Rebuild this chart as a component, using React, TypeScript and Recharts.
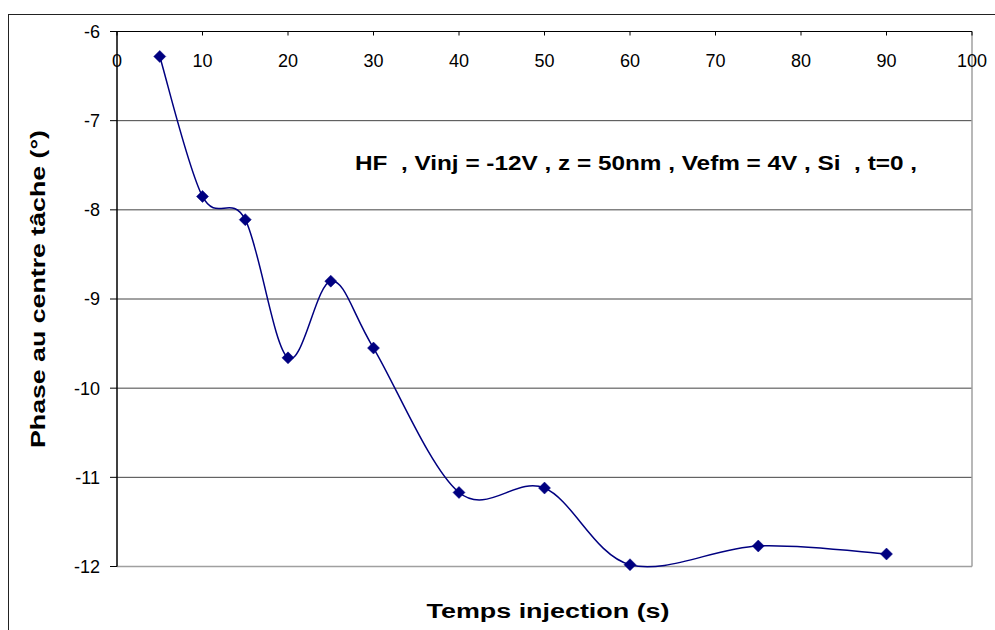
import React from 'react';
import { LineChart, Line, XAxis, YAxis, CartesianGrid, ReferenceLine, Label } from 'recharts';

const times = [5, 10, 15, 20, 25, 30, 40, 50, 60, 75, 90];
const phase = [-6.28, -7.85, -8.11, -9.66, -8.8, -9.55, -11.17, -11.12, -11.98, -11.77, -11.86];
const xTicks = [0, 10, 20, 30, 40, 50, 60, 70, 80, 90, 100];
const yTicks = [-12, -11, -10, -9, -8, -7, -6];
const xTitle = 'Temps injection (s)';
const yTitle = 'Phase au centre tâche (°)';
const note = 'HF  , Vinj = -12V , z = 50nm , Vefm = 4V , Si  , t=0 ,';

const data = times.map((t, i) => ({ t, v: phase[i] }));

const FONT = '"Liberation Sans", Arial, sans-serif';
const NAVY = '#000080';

// Excel-like smoothed line (Bezier with 1/6 tangents)
function excelCurve(context: any) {
  let pts: number[][] = [];
  return {
    areaStart() {},
    areaEnd() {},
    lineStart() {
      pts = [];
    },
    lineEnd() {
      const n = pts.length;
      if (n === 0) return;
      context.moveTo(pts[0][0], pts[0][1]);
      if (n === 1) return;
      const k = 1 / 6;
      for (let i = 0; i < n - 1; i++) {
        const p0 = pts[Math.max(0, i - 1)];
        const p1 = pts[i];
        const p2 = pts[i + 1];
        const p3 = pts[Math.min(n - 1, i + 2)];
        context.bezierCurveTo(
          p1[0] + (p2[0] - p0[0]) * k,
          p1[1] + (p2[1] - p0[1]) * k,
          p2[0] - (p3[0] - p1[0]) * k,
          p2[1] - (p3[1] - p1[1]) * k,
          p2[0],
          p2[1]
        );
      }
    },
    point(x: number, y: number) {
      pts.push([+x, +y]);
    },
  };
}

const Diamond = (props: any) => {
  const { cx, cy, index } = props;
  if (cx == null || cy == null) return <g key={index} />;
  const r = 6;
  return (
    <path
      key={index}
      d={`M${cx},${cy - r}L${cx + r},${cy}L${cx},${cy + r}L${cx - r},${cy}Z`}
      fill={NAVY}
      stroke={NAVY}
      strokeWidth={0.5}
    />
  );
};

const YTitle = (props: any) => {
  const vb = props.viewBox || {};
  const cx = vb.x + 37.5;
  const cy = vb.y + vb.height / 2 - 10;
  return (
    <text
      x={cx}
      y={cy}
      transform={`rotate(-90 ${cx} ${cy})`}
      textAnchor="middle"
      dominantBaseline="central"
      fontFamily={FONT}
      fontWeight="bold"
      fontSize={20}
      fill="#000"
      textLength={318}
      lengthAdjust="spacingAndGlyphs"
    >
      {yTitle}
    </text>
  );
};

export default function App() {
  return (
    <div style={{ position: 'absolute', left: 0, top: 0, width: 995, height: 630, background: '#fff', overflow: 'hidden' }}>
      <div
        style={{
          position: 'absolute',
          left: 8,
          top: 14,
          width: 990,
          height: 620,
          borderTop: '1.5px solid #222',
          borderLeft: '1.5px solid #222',
          boxSizing: 'border-box',
        }}
      />
      <div style={{ position: 'absolute', left: 0, top: 0 }}>
        <LineChart width={995} height={630} data={data} margin={{ top: 31.5, right: 23, bottom: 63.5, left: 0 }}>
          <CartesianGrid horizontal vertical={false} stroke="#444" strokeWidth={1} />
          <ReferenceLine y={-12} stroke="#a0a0a0" strokeWidth={1.5} ifOverflow="visible" />
          <ReferenceLine x={100} stroke="#a0a0a0" strokeWidth={1.5} ifOverflow="visible" />
          <XAxis
            dataKey="t"
            type="number"
            domain={[0, 100]}
            ticks={xTicks}
            orientation="top"
            mirror
            axisLine={{ stroke: '#000', strokeWidth: 1 }}
            tickLine={{ stroke: '#000' }}
            tickSize={4}
            tickMargin={19}
            tick={{ fill: '#000', fontSize: 18, fontFamily: FONT }}
            interval={0}
          />
          <YAxis
            type="number"
            domain={[-12, -6]}
            ticks={yTicks}
            width={117}
            axisLine={{ stroke: '#000', strokeWidth: 1.5 }}
            tickLine={{ stroke: '#000' }}
            tickSize={7}
            tickMargin={10}
            tick={{ fill: '#000', fontSize: 18, fontFamily: FONT }}
            interval={0}
          >
            <Label content={<YTitle />} />
          </YAxis>
          <Line
            dataKey="v"
            type={excelCurve as any}
            stroke={NAVY}
            strokeWidth={1.5}
            dot={<Diamond />}
            activeDot={false}
            isAnimationActive={false}
          />
        </LineChart>
      </div>
      <svg width={995} height={630} style={{ position: 'absolute', left: 0, top: 0, pointerEvents: 'none' }}>
        <text
          x={548}
          y={618}
          textAnchor="middle"
          fontFamily={FONT}
          fontWeight="bold"
          fontSize={20}
          fill="#000"
          textLength={243}
          lengthAdjust="spacingAndGlyphs"
        >
          {xTitle}
        </text>
        <text
          x={355}
          y={170}
          fontFamily={FONT}
          fontWeight="bold"
          fontSize={20}
          fill="#000"
          textLength={562}
          lengthAdjust="spacingAndGlyphs"
          style={{ whiteSpace: 'pre' }}
        >
          {note}
        </text>
      </svg>
    </div>
  );
}
